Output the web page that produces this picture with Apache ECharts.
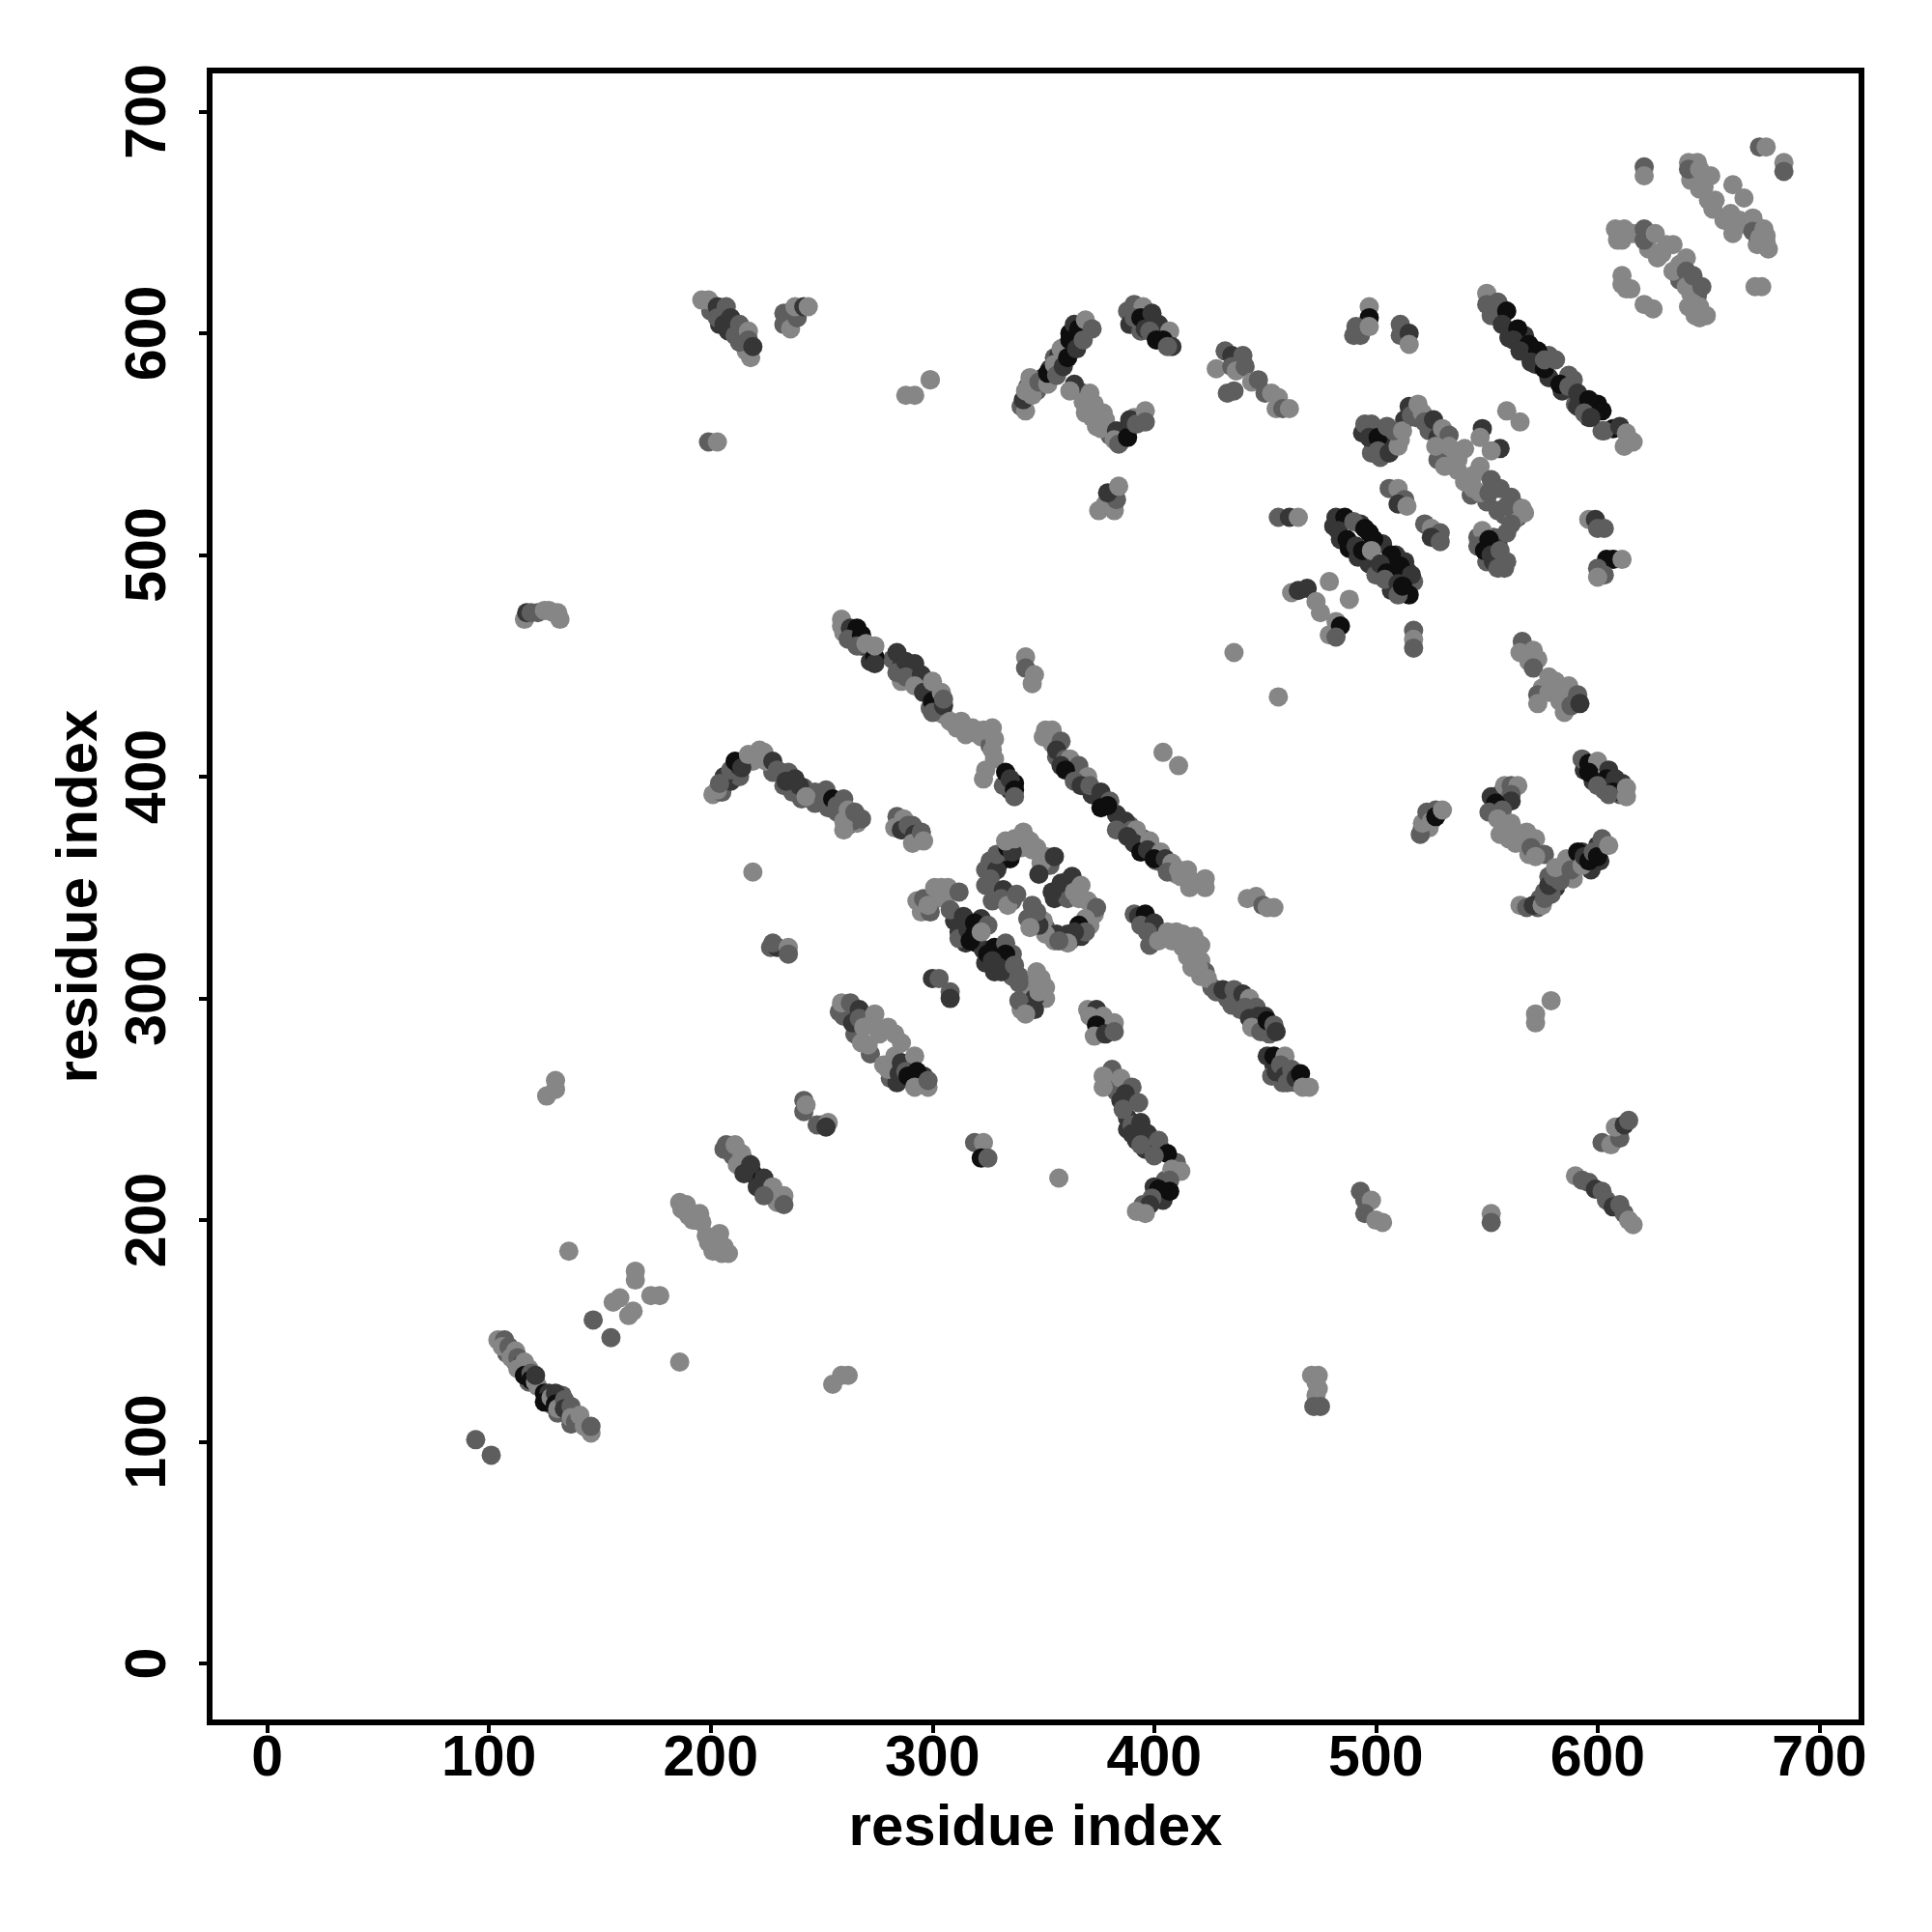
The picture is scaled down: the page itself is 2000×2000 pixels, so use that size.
<!DOCTYPE html>
<html><head><meta charset="utf-8">
<script src="https://cdn.jsdelivr.net/npm/echarts@6/dist/echarts.min.js"></script>
<style>html,body{margin:0;padding:0;background:#fff}#c{width:2000px;height:2000px}</style>
</head><body><div id="c"></div>
<script>
// each contact: [residue i, residue j, darkness 1..4]
const tickValues=[0,100,200,300,400,500,600,700];
const axisTitle='residue index';
const flankX=[[560,598,3],[566,592,3],[572,586,3],[578,580,3],[584,574,3],[590,568,2],[596,562,3],[602,556,2],[578,590,2],[589,579,2],[600,568,4],[557,611,2],[567,599,3]];
const flankAF=[[481,513,3],[484,507,3],[488,503,4],[492,499,3],[497,496,3],[500,491,2],[507,484,3],[493,514,3],[497,510,4],[503,505,3],[509,500,3],[513,497,3],[517,488,2],[514,493,3]];
const flankN=[[356,409,2],[360,405,3],[364,402,2],[368,396,3],[372,392,3],[378,388,2],[383,383,3],[389,378,2],[395,372,2],[401,366,3],[405,360,2],[410,356,1],[416,350,1],[419,352,1]];
const flankG=[[201,392,1],[205,393,2],[209,398,3],[213,400,2],[219,407,1],[228,402,2],[233,396,2],[237,393,2],[241,390,2],[247,388,2],[253,386,2],[257,384,2],[262,378,2],[266,379,1],[247,393,2],[250,392,2]];
const flankF=[[258,294,2],[265,284,2],[271,292,2],[283,284,1],[272,275,2],[281,264,2],[284,262,3],[296,265,3],[290,271,3]];
const flankA=[[108,140,2],[112,136,3],[118,127,2],[122,125,1],[128,117,2],[131,113,2],[137,108,2],[133,121,2],[136,113,3]];
const flankJ=[[296,342,2],[302,345,1],[306,346,1],[310,335,3],[315,325,3],[320,325,4],[323,322,3],[324,316,3],[328,312,3],[334,315,3],[336,310,2],[344,306,1],[349,300,1],[340,295,1],[351,300,1],[336,320,2],[322,336,3]];
const flankRing=[[324,358,2],[324,351,2],[327,344,2],[336,344,2],[330,361,3],[335,363,4],[340,368,1],[347,368,1],[353,360,2],[361,353,2],[355,345,3],[361,345,2],[366,345,1],[373,338,1],[371,333,1],[362,326,2],[355,326,1],[351,332,2],[345,342,2],[350,335,1],[367,328,3]];
const flankAA=[[494,555,3],[499,549,3],[504,550,3],[498,546,2],[503,553,3],[511,552,1],[513,561,3],[518,562,2],[524,556,2],[528,553,3],[531,546,1],[528,543,2],[534,541,2],[537,538,1],[537,543,1],[544,536,1],[543,527,2],[550,524,2],[555,520,2],[558,518,2],[563,522,2],[564,517,2],[553,508,2],[555,505,3],[546,508,2],[550,497,2],[553,497,3],[562,516,1]];
const flankP=[[399,328,1],[408,326,1],[413,323,1],[415,319,1],[417,314,1],[421,310,1],[426,305,2],[433,300,2],[439,295,2],[444,294,2],[452,284,2],[446,289,3],[450,285,2],[454,270,3],[453,265,2],[458,262,2],[462,265,3],[464,262,2]];
const flankAP=[[260,465,1],[264,463,3],[268,459,3],[272,458,2],[272,452,3],[282,453,2],[286,450,3],[286,443,1],[290,448,3],[294,443,3],[298,440,3],[302,436,3],[299,431,2],[303,429,1],[305,428,1],[315,419,1],[322,418,1],[326,414,2],[335,394,3],[332,396,2]];
const flankAI=[[340,567,2],[343,576,2],[347,574,2],[350,580,3],[353,584,3],[355,589,2],[357,590,3],[360,594,3],[362,600,4],[364,604,3],[367,599,3],[366,574,2],[370,570,1],[369,564,1],[374,558,1],[377,564,1],[380,554,2],[386,556,3],[385,552,1],[391,562,1],[393,561,2]];
const flankV=[[642,669,1],[646,665,1],[652,656,1],[657,651,1],[661,645,1],[667,649,1],[672,648,1],[672,640,1],[677,638,1],[616,645,1],[609,642,1],[623,638,1],[629,636,1],[637,631,1],[637,624,2],[645,617,2],[642,618,1],[643,611,1],[649,608,1],[611,622,1],[615,620,1]];
const flankT=[[556,392,2],[552,391,3],[556,374,1],[563,370,1],[566,370,1],[563,375,1],[569,365,1],[574,345,2],[573,341,2],[576,348,2],[581,350,3],[578,355,2],[584,358,2],[590,361,3],[589,354,1],[597,358,3],[601,362,3],[593,366,3],[600,369,3],[594,403,3],[598,398,3],[603,394,2],[610,392,2],[611,397,3],[521,377,2],[524,377,1],[527,385,2]];
const flankMisc=[[380,262,2],[383,258,2],[385,254,3],[388,246,3],[388,241,3],[392,236,3],[396,232,3],[403,232,3],[410,226,2],[405,218,2],[400,215,3],[395,207,2],[404,209,3],[569,452,1],[575,440,1],[586,437,1],[581,443,1],[388,610,2],[389,604,3],[392,610,2],[396,608,4],[394,601,2],[398,605,3],[400,601,3],[405,598,3],[200,610,2],[204,604,3],[208,601,3],[210,603,3],[216,593,2],[216,592,1],[189,207,1],[192,200,1],[201,186,1],[204,194,1],[206,232,2],[210,229,2],[216,226,3],[219,221,4],[223,215,3],[226,213,2],[230,210,1],[230,208,1]];
const isolated=[[94,101,2],[101,94,2],[186,136,1],[136,186,1],[147,155,2],[155,147,2],[219,357,1],[357,219,1],[436,456,1],[456,436,1],[579,299,1],[299,579,1],[404,411,1],[411,405,1]];
const bandA=[[104,146,1],[107,146,2],[106,143,1],[109,143,2],[112,141,1],[110,138,1],[113,138,2],[115,135,3],[113,133,1],[116,136,1],[118,133,1],[116,130,4],[119,131,2],[119,128,4],[121,127,1],[121,130,3],[125,122,4],[127,122,3],[125,118,4],[128,120,1],[130,122,3],[130,117,4],[131,115,1],[134,119,2],[134,115,3],[137,116,2],[137,111,1],[139,109,2],[141,112,1],[143,107,1],[146,104,1],[146,107,2]];
const cluster130=[[156,163,1],[159,165,1],[163,157,1],[165,159,1],[166,177,1],[166,173,1],[173,166,1],[177,166,1],[255,126,1],[259,130,1],[262,130,1],[471,130,1],[474,130,1],[473,127,1],[474,124,1],[473,121,1],[472,116,2],[475,116,2],[116,471,1],[117,474,3],[119,474,2],[122,474,2],[125,475,1],[127,475,1],[129,474,1],[131,474,1],[132,471,1],[126,256,1],[130,259,1],[130,263,1]];
const bandC=[[186,208,1],[187,205,1],[189,204,1],[192,203,1],[195,203,1],[190,202,1],[193,200,1],[196,199,1],[198,193,1],[200,192,1],[202,191,1],[199,190,1],[203,188,1],[206,188,1],[205,185,1],[208,185,1]];
const bandD=[[207,234,2],[211,234,1],[214,230,1],[212,225,1],[218,225,3],[215,221,3],[224,219,3],[221,215,3],[228,215,1],[224,211,2],[233,211,1],[233,207,2]];
const clusterE=[[242,254,2],[242,249,2],[243,252,1],[248,243,2],[250,243,2],[253,244,1],[252,242,3]];
const bandF=[[260,292,2],[259,298,1],[263,298,2],[264,289,3],[267,295,3],[267,291,2],[269,287,1],[274,293,1],[273,289,1],[280,287,1],[268,280,1],[271,279,1],[276,284,1],[278,270,1],[280,268,1],[286,280,1],[283,274,1],[285,266,3],[286,271,3],[292,274,1],[288,267,2],[289,265,4],[293,267,4],[292,260,1],[298,260,1],[298,263,2]];
const ridgeG=[[203,394,1],[206,400,3],[204,397,2],[209,403,2],[211,407,4],[213,405,4],[214,404,3],[217,410,1],[222,412,1],[224,411,1],[225,407,1],[228,407,3],[230,403,2],[235,402,2],[234,398,3],[238,399,3],[242,395,2],[240,396,3],[243,391,1],[252,394,2],[251,389,2],[255,390,4],[257,387,2],[260,390,2],[262,385,1],[264,380,2],[260,380,1],[260,376,1],[265,384,2],[268,381,2]];
const clusterH=[[284,382,2],[283,377,1],[287,381,1],[286,376,3],[289,378,2],[291,378,2],[292,374,3],[291,370,1],[295,375,2],[296,371,1]];
const clusterI=[[227,323,2],[230,323,3],[228,325,2],[235,323,1],[235,320,2],[300,309,3],[303,309,2],[308,303,2],[308,300,3]];
const bandJ=[[293,344,1],[295,339,1],[299,339,2],[296,345,2],[298,342,1],[301,350,1],[304,350,1],[307,350,1],[312,348,2],[308,340,2],[314,337,3],[312,330,3],[312,327,2],[316,331,3],[319,334,4],[319,329,4],[317,326,4],[325,333,2],[322,330,1],[325,320,4],[328,323,4],[333,325,2],[333,320,4],[327,317,3],[330,314,3],[331,312,3],[337,315,2],[339,310,2],[339,307,2],[347,312,1],[349,309,1],[351,305,1],[346,300,3],[339,299,2],[346,295,3],[342,293,1],[348,303,1]];
const ringM=[[326,362,2],[329,358,3],[326,354,2],[328,348,2],[332,349,3],[331,345,2],[334,342,1],[338,347,2],[332,366,3],[329,365,2],[334,368,4],[336,366,3],[333,371,1],[337,372,1],[341,375,1],[344,371,1],[345,367,1],[351,364,1],[349,361,1],[355,364,3],[348,356,3],[363,355,3],[358,352,3],[354,348,3],[364,348,1],[367,351,1],[370,344,1],[374,341,2],[369,336,1],[366,333,4],[369,330,2],[364,330,3],[361,329,3],[356,329,3],[361,325,1],[351,329,1],[348,333,3],[347,339,2],[343,336,2],[344,332,1],[357,326,2]];
const bandN=[[351,421,1],[354,421,1],[350,418,1],[354,415,1],[358,416,2],[356,412,3],[360,408,2],[362,408,1],[358,405,3],[366,405,2],[360,403,4],[370,400,1],[364,398,2],[367,396,3],[371,396,2],[376,393,3],[380,389,2],[376,386,4],[379,387,4],[387,380,3],[383,376,2],[390,376,2],[392,376,1],[388,373,3],[391,370,3],[394,366,4],[398,371,1],[397,367,3],[403,366,1],[401,362,2],[400,363,4],[405,363,3],[408,361,1],[406,357,2],[411,358,1],[415,358,1],[412,355,1],[417,353,1],[423,354,1],[423,350,1]];
const bandP=[[391,338,2],[393,337,3],[396,338,4],[394,333,2],[400,334,3],[397,330,2],[398,324,2],[402,326,1],[406,330,1],[410,330,1],[413,329,1],[418,328,1],[416,324,1],[421,324,1],[418,320,1],[421,317,1],[423,312,2],[420,314,1],[424,309,1],[428,303,2],[431,304,3],[436,304,2],[437,301,2],[435,297,2],[440,302,3],[443,300,1],[441,296,2],[446,296,2],[443,291,3],[447,292,3],[450,292,3],[444,287,1],[448,285,2],[451,290,4],[454,288,2],[455,285,3],[451,274,3],[454,274,4],[459,274,1],[455,267,3],[457,270,2],[459,265,3],[462,268,2],[460,262,2],[464,264,3],[466,266,4],[467,260,1],[470,260,1]];
const clusterL=[[442,345,1],[446,346,1],[449,342,2],[451,341,1],[454,341,1]];
const arcTop=[[196,615,1],[199,615,1],[203,612,3],[207,612,2],[203,607,2],[206,604,3],[209,607,3],[213,604,2],[211,599,2],[213,596,2],[217,601,1],[217,597,2],[218,589,1],[219,594,3],[233,609,2],[233,604,2],[236,602,1],[239,607,2],[238,612,1],[242,612,3],[244,612,1],[299,579,1],[288,572,1],[292,572,1],[199,551,2],[203,551,1]];
const ridgeAI=[[342,565,1],[341,570,3],[342,574,1],[345,572,1],[344,580,1],[348,578,2],[352,577,1],[352,582,4],[355,586,1],[356,581,2],[359,585,3],[358,593,1],[361,589,4],[362,597,4],[365,593,3],[366,602,4],[368,597,2],[369,606,1],[372,602,2],[364,577,3],[362,574,1],[371,573,1],[368,569,1],[373,568,1],[372,562,1],[378,561,1],[376,557,1],[383,556,3],[382,552,1],[384,550,2],[388,553,4],[389,561,3],[392,559,2],[396,565,1],[396,560,2],[375,520,1],[378,523,1],[382,520,1],[383,525,2],[379,528,3],[384,531,1]];
const bandAL=[[391,613,2],[395,612,1],[391,607,2],[394,607,4],[399,609,3],[396,602,3],[402,604,3],[398,601,2],[407,601,1],[401,597,4],[404,597,4],[408,594,3],[406,594,2]];
const clusterZ=[[428,584,1],[432,592,2],[435,590,3],[440,590,2],[435,585,2],[437,583,1],[441,585,2],[433,573,2],[436,574,2],[444,578,1],[447,579,2],[450,573,2],[453,573,1],[456,571,1],[455,566,1],[458,566,2],[461,566,1]];
const bandAA=[[495,559,2],[498,559,2],[497,553,3],[501,553,4],[501,547,2],[502,544,2],[506,546,3],[510,549,1],[505,558,2],[508,556,2],[512,556,1],[515,567,3],[516,563,2],[519,568,1],[521,564,1],[522,560,2],[526,561,3],[530,557,1],[533,554,2],[527,549,1],[533,549,1],[531,540,1],[540,548,1],[536,546,1],[547,540,1],[540,533,1],[544,530,1],[547,528,1],[552,534,2],[551,528,2],[556,530,2],[561,526,2],[559,522,2],[566,521,1],[567,519,1],[561,514,2],[559,510,2],[548,511,1],[546,504,2],[551,507,4],[549,502,4],[552,500,3],[556,502,2],[559,497,2],[555,494,2],[558,494,2]];
const clusterAB=[[548,557,3],[547,553,1],[556,548,3],[552,547,1],[559,565,1],[565,560,1],[497,612,1],[497,607,4],[496,603,3],[491,603,2],[490,599,2],[493,599,2],[497,603,1],[511,604,2],[511,599,2],[515,600,3],[515,595,1]];
const bandAC=[[506,530,2],[510,530,1],[513,525,2],[510,523,3],[514,522,1],[522,514,2],[525,512,1],[529,510,2],[525,508,3],[529,506,2],[456,517,2],[461,517,3],[465,517,1]];
const bandAF=[[482,517,3],[486,517,4],[483,511,3],[490,515,2],[487,507,4],[495,512,4],[491,504,3],[499,507,4],[494,502,4],[498,502,1],[507,500,4],[502,496,3],[505,492,4],[511,495,4],[504,489,2],[510,487,3],[516,491,3],[515,482,4],[510,482,2],[512,486,4]];
const clusterMid=[[462,483,1],[465,484,3],[469,485,3],[473,479,1],[479,488,1],[488,480,1],[475,474,1],[482,470,1],[479,464,1],[484,468,4],[482,463,2],[517,466,2],[517,462,1],[517,458,2],[596,516,1],[599,516,3],[600,512,2],[603,512,2],[604,498,4],[607,498,4],[611,498,1],[600,494,2],[603,491,2],[600,490,1]];
const bandX=[[550,618,1],[550,613,2],[555,614,2],[552,608,2],[559,610,4],[557,604,3],[564,602,4],[562,597,3],[569,595,4],[565,592,3],[573,592,4],[570,587,3],[576,584,4],[576,588,2],[581,588,2],[587,581,2],[583,577,4],[587,576,2],[591,573,3],[591,567,3],[596,570,4],[594,564,2],[602,565,4],[597,562,3],[607,557,4],[603,556,2],[610,558,3],[613,555,1],[612,549,1],[616,551,1]];
const cornerV=[[673,684,2],[676,684,1],[684,677,1],[684,673,2],[621,675,2],[621,671,1],[641,677,1],[645,677,1],[641,674,2],[646,674,1],[651,671,1],[648,666,1],[661,667,1],[650,660,1],[653,660,1],[666,661,1],[660,654,1],[660,650,1],[664,651,1],[670,652,1],[670,646,2],[675,647,1],[676,644,1],[673,643,1],[676,641,1],[608,647,1],[612,647,1],[611,642,1],[621,647,2],[621,642,2],[626,645,1],[631,640,1],[634,640,1],[627,634,1],[634,628,1],[640,634,1],[640,628,2],[640,621,1],[643,626,2],[647,621,2],[611,626,1],[613,620,1],[621,613,1],[625,611,1],[641,612,1],[646,612,1],[646,607,1],[644,608,1],[671,621,1],[674,621,1]];
const clusterQ=[[566,461,2],[565,456,1],[571,457,1],[573,453,1],[571,449,2],[578,445,1],[573,437,2],[573,433,1],[578,438,1],[587,441,1],[583,434,1],[585,429,1],[588,432,2],[591,437,2],[592,433,3]];
const clusterR=[[593,408,2],[596,406,4],[600,407,1],[596,402,4],[605,403,3],[604,399,4],[600,396,2],[608,399,3],[607,393,4],[605,392,2],[613,395,1],[613,391,1]];
const clusterS=[[520,374,2],[521,379,1],[523,384,2],[525,380,1],[527,382,4],[530,385,1]];
const vShapeT=[[558,396,1],[561,396,2],[564,396,1],[561,392,2],[561,389,3],[554,388,4],[551,384,2],[557,385,2],[555,381,1],[561,379,1],[558,377,1],[560,372,1],[568,375,1],[572,372,1],[570,368,2],[576,365,2],[572,364,1],[565,342,1],[568,341,2],[571,342,3],[575,342,1],[579,347,2],[576,345,2],[578,351,3],[580,355,2],[583,353,2],[581,359,1],[586,363,1],[588,358,2],[591,366,4],[593,360,1],[594,364,3],[596,362,4],[598,366,2],[600,364,4],[602,372,2],[605,369,1]];
const lowerRight=[[572,289,1],[572,293,1],[493,213,2],[495,209,2],[498,209,1],[495,203,2],[500,200,1],[503,199,1],[552,203,1],[552,199,2],[590,220,1],[593,218,2],[596,217,2],[599,214,3],[602,213,2],[604,209,2],[607,206,3],[610,207,2],[612,203,2],[614,200,1],[616,198,1],[602,235,2],[606,234,1],[610,237,2],[608,242,1],[612,243,3],[614,245,2]];
const bandAO=[[259,471,1],[259,468,1],[263,467,3],[266,467,4],[262,462,2],[268,464,4],[266,459,2],[270,460,1],[274,454,4],[274,451,3],[274,459,1]];
const bandAP=[[284,456,3],[284,447,2],[288,452,3],[292,451,3],[288,445,2],[295,446,3],[292,441,1],[296,438,3],[300,443,1],[300,434,4],[300,429,2],[304,438,1],[305,432,3],[305,435,2]];
const bandAQ=[[308,425,1],[313,425,1],[318,422,1],[323,421,1],[327,422,1],[328,417,1],[318,420,1],[311,422,1],[327,412,1],[328,408,1],[324,403,1],[323,399,1],[333,402,4],[337,397,4],[335,399,3],[337,394,4],[337,391,2],[342,454,1],[342,449,2],[346,446,1],[345,442,1]];
const bandJ2=[[381,268,2],[377,265,1],[377,260,1],[385,264,1],[390,260,2],[387,257,3],[386,250,2],[393,253,2],[390,243,2],[394,244,3],[390,239,3],[397,239,3],[402,236,2],[394,234,2],[406,230,4],[400,229,2],[408,223,1],[412,222,1],[407,218,2],[402,214,4],[407,213,4],[399,210,2],[398,207,3],[392,204,1],[396,203,1],[370,295,1],[374,295,3],[371,292,1],[377,292,1],[374,288,4],[382,289,1],[373,283,1],[378,284,3],[382,285,2],[319,235,2],[323,235,1],[322,228,4],[325,228,2]];
const pointGroups=[flankX,flankAF,flankN,flankG,flankF,flankA,flankJ,flankRing,flankAA,flankP,flankAP,flankAI,flankV,flankT,flankMisc,isolated,bandA,cluster130,bandC,bandD,clusterE,bandF,ridgeG,clusterH,clusterI,bandJ,ringM,bandN,bandP,clusterL,arcTop,ridgeAI,bandAL,clusterZ,bandAA,clusterAB,bandAC,bandAF,clusterMid,bandX,cornerV,clusterQ,clusterR,clusterS,vShapeT,lowerRight,bandAO,bandAP,bandAQ,bandJ2];
const contacts=pointGroups.flat();
const fontFamily='"Liberation Sans",Arial,sans-serif';
const labelStyle={fontFamily,fontWeight:'bold',fontSize:59,color:'#000'};
function axis(rotate,nameGap,margin,min,max){return{
  type:'value',min,max,name:axisTitle,nameLocation:'middle',nameGap,
  nameRotate:rotate,nameTextStyle:{fontFamily,fontWeight:'bold',fontSize:60,color:'#000'},
  splitLine:{show:false},axisLine:{show:false,onZero:false},
  axisTick:{show:true,length:11,lineStyle:{color:'#000',width:4},customValues:tickValues},
  axisLabel:{...labelStyle,rotate,margin,customValues:tickValues}
};}
const chart=echarts.init(document.getElementById('c'),null,{renderer:'canvas'});
chart.setOption({
  backgroundColor:'#fff',animation:false,
  grid:{left:217,top:73,width:1710,height:1710,show:true,borderColor:'#000',borderWidth:6,backgroundColor:'transparent',z:5},
  xAxis:axis(0,80,9,-26,719),
  yAxis:axis(90,104,33,-26.5,718.5),
  visualMap:{show:false,dimension:2,min:1,max:4,seriesIndex:0,inRange:{color:['#868686','#0e0e0e']}},
  series:[{type:'scatter',data:contacts,symbol:'circle',symbolSize:20,large:false,itemStyle:{opacity:1},encode:{x:0,y:1},silent:true}]
});
</script></body></html>
